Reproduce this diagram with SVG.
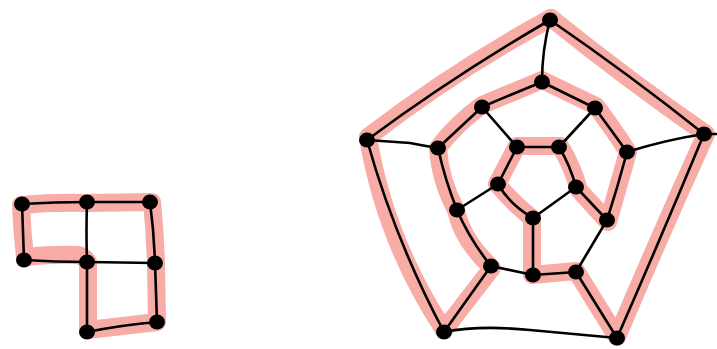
<svg xmlns="http://www.w3.org/2000/svg" width="717" height="349" viewBox="0 0 717 349">
<style>
.hl{fill:none;stroke:#f7aca5;stroke-width:18;stroke-linejoin:round;stroke-linecap:round}
.e{fill:none;stroke:#000;stroke-width:2.6;stroke-linecap:round}
.n{fill:#000}
</style>
<rect width="717" height="349" fill="#fff"/>
<g id="highlight">
<path class="hl" d="M21,205 Q55,202 87,203 L152,202 Q155,232 156,263 L157,322 Q122,326 88,330 L88,262 Q84,256 78,255 Q52,254 25,257 Q22,232 21,205 Z"/>
<path class="hl" d="M551,18 Q455,70 368,137 Q385,240 444,330 L492,268 Q462,240 456,210 Q440,180 438,148 Q455,125 482,105 L542,80 L596,106 Q614,130 628,152 L608,222 L579,190 Q572,165 560,146 L517,146 L497,184 Q515,205 532,218 L532,275 L576,271 Q597,305 617,337 Q660,235 706,134 Q628,80 551,18 Z"/>
</g>
<g id="connectors">
<path class="e" d="M22,204 Q55,202 87,202"/>
<path class="e" d="M87,202 L150,202"/>
<path class="e" d="M22,204 Q23,232 24,260"/>
<path class="e" d="M24,260 Q55,262 87,262"/>
<path class="e" d="M87,202 Q86,232 87,262"/>
<path class="e" d="M87,262 L155,263"/>
<path class="e" d="M150,202 Q154,232 155,263"/>
<path class="e" d="M87,262 L87,332"/>
<path class="e" d="M87,332 Q122,325 157,322"/>
<path class="e" d="M155,263 L157,322"/>
<path class="e" d="M550,20 Q630,75 704,134"/>
<path class="e" d="M704,134 L716,134"/>
<path class="e" d="M550,20 Q455,75 367,140"/>
<path class="e" d="M367,140 Q395,240 444,332"/>
<path class="e" d="M444,332 Q480,325 530,330 L617,338"/>
<path class="e" d="M704,134 Q660,240 617,338"/>
<path class="e" d="M550,20 Q542,50 542,82"/>
<path class="e" d="M367,140 Q395,142 410,143 Q425,146 438,148"/>
<path class="e" d="M704,134 Q665,140 627,152"/>
<path class="e" d="M444,332 L491,266"/>
<path class="e" d="M617,338 L576,272"/>
<path class="e" d="M542,82 Q510,95 482,107"/>
<path class="e" d="M482,107 L438,148"/>
<path class="e" d="M438,148 Q445,180 457,210"/>
<path class="e" d="M457,210 Q470,240 491,266"/>
<path class="e" d="M491,266 L533,275"/>
<path class="e" d="M533,275 L576,272"/>
<path class="e" d="M576,272 L607,220"/>
<path class="e" d="M607,220 Q618,186 627,152"/>
<path class="e" d="M627,152 L595,108"/>
<path class="e" d="M595,108 L542,82"/>
<path class="e" d="M482,107 L517,147"/>
<path class="e" d="M595,108 L559,147"/>
<path class="e" d="M457,210 L498,184"/>
<path class="e" d="M607,220 L576,187"/>
<path class="e" d="M533,218 L533,275"/>
<path class="e" d="M517,147 L559,147"/>
<path class="e" d="M559,147 Q570,165 576,187"/>
<path class="e" d="M576,187 L533,218"/>
<path class="e" d="M533,218 Q510,205 498,184"/>
<path class="e" d="M498,184 L517,147"/>
</g>
<g id="nA"><ellipse class="n" cx="22" cy="204" rx="8" ry="7.5"/></g>
<g id="nB"><ellipse class="n" cx="87" cy="202" rx="8" ry="7.5"/></g>
<g id="nC"><ellipse class="n" cx="150" cy="202" rx="8" ry="7.5"/></g>
<g id="nD"><ellipse class="n" cx="24" cy="260" rx="8" ry="7.5"/></g>
<g id="nE"><ellipse class="n" cx="87" cy="262" rx="8" ry="7.5"/></g>
<g id="nF"><ellipse class="n" cx="155" cy="263" rx="8" ry="7.5"/></g>
<g id="nG"><ellipse class="n" cx="87" cy="332" rx="8" ry="7.5"/></g>
<g id="nH"><ellipse class="n" cx="157" cy="322" rx="8" ry="7.5"/></g>
<g id="o1"><ellipse class="n" cx="550" cy="20" rx="8" ry="7.5"/></g>
<g id="o2"><ellipse class="n" cx="704" cy="134" rx="8" ry="7.5"/></g>
<g id="o3"><ellipse class="n" cx="367" cy="140" rx="8" ry="7.5"/></g>
<g id="o4"><ellipse class="n" cx="444" cy="332" rx="8" ry="7.5"/></g>
<g id="o5"><ellipse class="n" cx="617" cy="338" rx="8" ry="7.5"/></g>
<g id="m1"><ellipse class="n" cx="542" cy="82" rx="8" ry="7.5"/></g>
<g id="m2"><ellipse class="n" cx="482" cy="107" rx="8" ry="7.5"/></g>
<g id="m3"><ellipse class="n" cx="595" cy="108" rx="8" ry="7.5"/></g>
<g id="m4"><ellipse class="n" cx="438" cy="148" rx="8" ry="7.5"/></g>
<g id="m5"><ellipse class="n" cx="627" cy="152" rx="8" ry="7.5"/></g>
<g id="m6"><ellipse class="n" cx="457" cy="210" rx="8" ry="7.5"/></g>
<g id="m7"><ellipse class="n" cx="607" cy="220" rx="8" ry="7.5"/></g>
<g id="m8"><ellipse class="n" cx="491" cy="266" rx="8" ry="7.5"/></g>
<g id="m9"><ellipse class="n" cx="576" cy="272" rx="8" ry="7.5"/></g>
<g id="m10"><ellipse class="n" cx="533" cy="275" rx="8" ry="7.5"/></g>
<g id="i1"><ellipse class="n" cx="517" cy="147" rx="8" ry="7.5"/></g>
<g id="i2"><ellipse class="n" cx="559" cy="147" rx="8" ry="7.5"/></g>
<g id="i3"><ellipse class="n" cx="498" cy="184" rx="8" ry="7.5"/></g>
<g id="i4"><ellipse class="n" cx="576" cy="187" rx="8" ry="7.5"/></g>
<g id="i5"><ellipse class="n" cx="533" cy="218" rx="8" ry="7.5"/></g>
</svg>
